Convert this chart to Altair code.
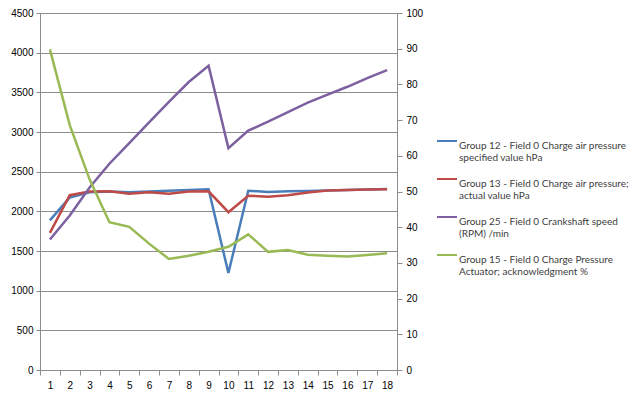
import altair as alt
import pandas as pd

categories = list(range(1, 18 + 1))

series_names = [
    "Group 12 - Field 0 Charge air pressure|specified value  hPa",
    "Group 13 - Field 0 Charge air pressure;|actual value  hPa",
    "Group 25 - Field 0 Crankshaft  speed|(RPM)  /min",
    "Group 15 - Field 0 Charge Pressure|Actuator; acknowledgment  %",
]
series_colors = ["#4A7EBB", "#BE4B48", "#7D60A0", "#98B954"]

g12 = [1886, 2175, 2240, 2250, 2240, 2250, 2260, 2270, 2279, 1222, 2259, 2245, 2252, 2255, 2262, 2270, 2275, 2280]
g13 = [1728, 2204, 2250, 2252, 2222, 2242, 2222, 2250, 2252, 1989, 2197, 2184, 2204, 2238, 2262, 2270, 2275, 2279]
g25 = [1645, 1948, 2300, 2600, 2860, 3120, 3380, 3630, 3835, 2797, 3017, 3130, 3250, 3370, 3470, 3570, 3680, 3780]
g15 = [89.8, 68.6, 53.4, 41.4, 40.1, 35.4, 31.1, 32.0, 33.1, 34.5, 38.0, 33.1, 33.6, 32.3, 32.0, 31.8, 32.2, 32.7]

left_rows = []
for name, vals in zip(series_names[:3], [g12, g13, g25]):
    for c, v in zip(categories, vals):
        left_rows.append({"cat": c, "value": v, "series": name})
left_df = pd.DataFrame(left_rows)
right_df = pd.DataFrame({"cat": categories, "value": g15, "series": series_names[3]})

FONT = "Lato"
GRID = "#8C8C8C"
TXT = "#404040"

color_scale = alt.Scale(domain=series_names, range=series_colors)

x_enc = alt.X(
    "cat:O",
    scale=alt.Scale(type="band", paddingInner=0, paddingOuter=0),
    axis=alt.Axis(
        title=None, labelAngle=0, tickBand="extent", grid=False,
        domainColor=GRID, tickColor=GRID, tickSize=5, labelPadding=5,
    ),
    bandPosition=0.5,
)

legend = alt.Legend(
    title=None, orient="none", legendX=396, legendY=117,
    symbolType="stroke", symbolSize=400, symbolStrokeWidth=2,
    labelExpr="split(datum.label, '|')", labelLimit=300,
    labelFont=FONT, labelFontSize=10, labelColor=TXT,
    labelBaseline="top", rowPadding=5, labelOffset=1,
)

left = alt.Chart(left_df).mark_line(strokeWidth=2.5).encode(
    x=x_enc,
    y=alt.Y(
        "value:Q",
        scale=alt.Scale(domain=[0, 4500], nice=False, zero=True),
        axis=alt.Axis(
            title=None, values=list(range(0, 4501, 500)), format="d", grid=True,
            gridColor=GRID, domainColor=GRID, tickColor=GRID, tickSize=4,
            labelPadding=3,
        ),
    ),
    color=alt.Color("series:N", scale=color_scale, legend=legend, sort=series_names),
    detail="series:N",
)

right = alt.Chart(right_df).mark_line(strokeWidth=2.5).encode(
    x=x_enc,
    y=alt.Y(
        "value:Q",
        scale=alt.Scale(domain=[0, 100], nice=False),
        axis=alt.Axis(
            title=None, orient="right", values=list(range(0, 101, 10)), format="d",
            grid=False, domainColor=GRID, tickColor=GRID, tickSize=5, labelPadding=4,
        ),
    ),
    color=alt.Color("series:N", scale=color_scale, legend=legend, sort=series_names),
)

chart = (
    alt.layer(left, right)
    .resolve_scale(y="independent")
    .properties(
        width=357, height=357,
        autosize=alt.AutoSizeParams(type="none"),
        padding={"left": 32, "top": 5, "right": 235, "bottom": 21},
    )
    .configure_view(stroke=None)
    .configure_axis(labelFont=FONT, labelFontSize=11, labelColor=TXT)
    .configure(background="white")
)

chart.save("out.html", embed_options={"renderer": "svg", "actions": False})
